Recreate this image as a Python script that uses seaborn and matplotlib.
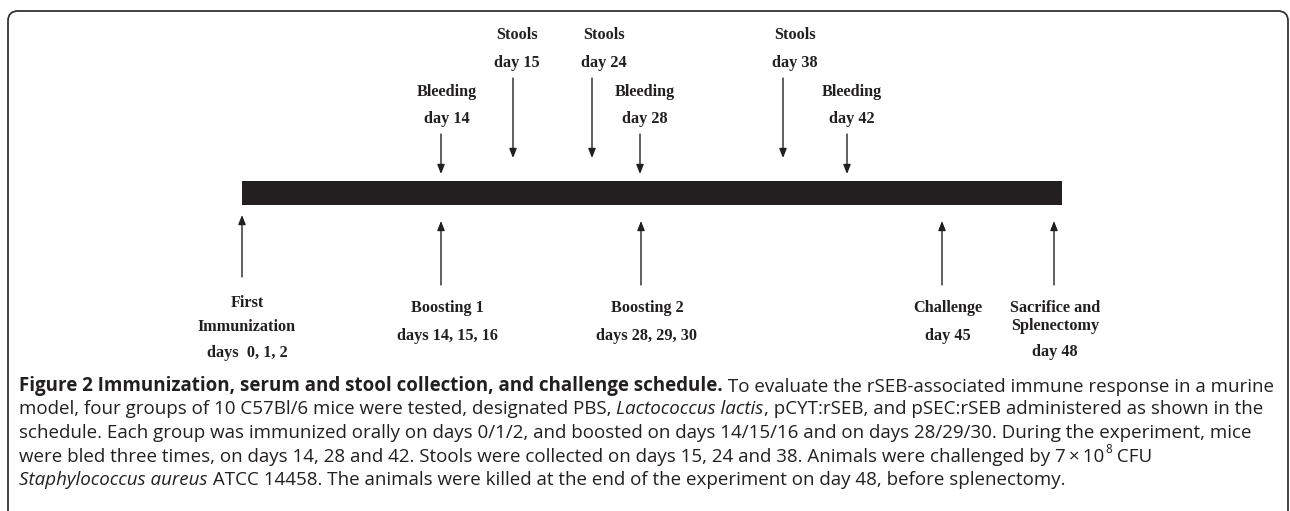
import matplotlib
matplotlib.use("Agg")
import matplotlib.pyplot as plt
import seaborn as sns
import pandas as pd
from matplotlib.path import Path
import matplotlib.patches as mpatches

# ---------------- data ----------------
top_events = ["Bleeding", "Stools", "Stools", "Bleeding", "Stools", "Bleeding"]
top_days = [14, 15, 24, 28, 38, 42]
bottom_events = ["First\nImmunization", "Boosting 1", "Boosting 2", "Challenge",
                 "Sacrifice and\nSplenectomy"]
bottom_day_labels = ["days  0, 1, 2", "days 14, 15, 16", "days 28, 29, 30", "day 45", "day 48"]
timeline_start_day = 0
timeline_end_day = 48

caption_lines = [
    [("Figure 2 Immunization, serum and stool collection, and challenge schedule.", "bold"),
     (" To evaluate the rSEB-associated immune response in a murine", "normal")],
    [("model, four groups of 10 C57Bl/6 mice were tested, designated PBS, ", "normal"),
     ("Lactococcus lactis", "italic"),
     (", pCYT:rSEB, and pSEC:rSEB administered as shown in the", "normal")],
    [("schedule. Each group was immunized orally on days 0/1/2, and boosted on days 14/15/16 "
      "and on days 28/29/30. During the experiment, mice", "normal")],
    [("were bled three times, on days 14, 28 and 42. Stools were collected on days 15, 24 and 38. "
      "Animals were challenged by 7\u2009\u00d7\u200910", "normal"),
     ("8", "sup"),
     (" CFU", "normal")],
    [("Staphylococcus aureus", "italic"),
     (" ATCC 14458. The animals were killed at the end of the experiment on day 48, before splenectomy.",
      "normal")],
]

# ---------------- layout (pixels) ----------------
W, H = 1290, 511
top_arrow_x = [441, 513, 592, 640, 783, 847]
top_label_x = [447, 517, 604, 645, 795, 852]
bottom_arrow_x = [242, 441, 641, 942, 1054]
bottom_label_x = [247, 447, 647, 948, 1055]
bar_x0, bar_x1, bar_y0, bar_y1 = 242, 1062, 181, 205

INK = "#231f20"
sns.set_style("white")
plt.rcParams["font.family"] = ["DejaVu Sans"]

fig = plt.figure(figsize=(W / 100, H / 100), dpi=100)
fig.patch.set_facecolor("white")

# overlay axes in pixel coordinates
ov = fig.add_axes([0, 0, 1, 1])
ov.set_xlim(0, W)
ov.set_ylim(H, 0)
ov.axis("off")

# timeline bar via seaborn
axb = fig.add_axes([bar_x0 / W, 1 - bar_y1 / H, (bar_x1 - bar_x0) / W, (bar_y1 - bar_y0) / H])
df = pd.DataFrame({"phase": ["schedule"], "end": [timeline_end_day]})
sns.barplot(data=df, x="end", y="phase", orient="h", color=INK, saturation=1,
            width=1.0, linewidth=0, ax=axb)
axb.set_xlim(timeline_start_day, timeline_end_day)
axb.set_ylim(0.5, -0.5)
axb.axis("off")

# frame (rounded top corners)
r = 10
verts = [(8, H + 5), (8, 11 + r), (8, 11), (8 + r, 11), (1288 - r, 11), (1288, 11), (1288, 11 + r),
         (1288, H + 5)]
codes = [Path.MOVETO, Path.LINETO, Path.CURVE3, Path.CURVE3, Path.LINETO, Path.CURVE3, Path.CURVE3,
         Path.LINETO]
ov.add_patch(mpatches.PathPatch(Path(verts, codes), fill=False, edgecolor="#333333", lw=1.3,
                                clip_on=False))

serif = dict(family="Liberation Serif", weight="bold", size=11.7, color=INK)
arrow_kw = dict(arrowstyle="-|>,head_length=0.55,head_width=0.22", color=INK, lw=1.0,
                shrinkA=0, shrinkB=0, mutation_scale=10)

# top events
for name, day, ax_x, lx in zip(top_events, top_days, top_arrow_x, top_label_x):
    if name == "Stools":
        y_name, y_day, y0, y1 = 35, 63, 78, 158
    else:
        y_name, y_day, y0, y1 = 92, 119, 134, 174
    ov.text(lx, y_name, name, ha="center", va="center", **serif)
    ov.text(lx, y_day, f"day {day}", ha="center", va="center", **serif)
    ov.annotate("", xy=(ax_x, y1), xytext=(ax_x, y0), arrowprops=arrow_kw)

# bottom events
for i, (name, dlab, ax_x, lx) in enumerate(zip(bottom_events, bottom_day_labels,
                                                bottom_arrow_x, bottom_label_x)):
    if i == 0:
        y0, y1 = 277, 215
        ov.text(lx, 303, name.split("\n")[0], ha="center", va="center", **serif)
        ov.text(lx, 327, name.split("\n")[1], ha="center", va="center", **serif)
        ov.text(lx, 353, dlab, ha="center", va="center", **serif)
    elif "\n" in name:
        y0, y1 = 285, 221
        ov.text(lx, 308, name.split("\n")[0], ha="center", va="center", **serif)
        ov.text(lx, 326, name.split("\n")[1], ha="center", va="center", **serif)
        ov.text(lx, 352, dlab, ha="center", va="center", **serif)
    else:
        y0, y1 = 285, 221
        ov.text(lx, 308, name, ha="center", va="center", **serif)
        ov.text(lx, 336, dlab, ha="center", va="center", **serif)
    ov.annotate("", xy=(ax_x, y1), xytext=(ax_x, y0), arrowprops=arrow_kw)

# caption
cap_font = "Open Sans"
renderer = fig.canvas.get_renderer()
probe = ov.text(0, 0, "".join(s for s, _ in caption_lines[2]), family=cap_font, size=12)
wprobe = probe.get_window_extent(renderer).width
probe.remove()
target = 1252 - 19
cap_size = 12 * target / wprobe

cap_x0 = 19
cap_y = [386, 409.5, 433, 456.5, 480]
for line, yb in zip(caption_lines, cap_y):
    prev = None       # last text object (for x chaining)
    base = None       # last full-size text (for y / baseline chaining)
    for seg, style in line:
        kw = dict(family=cap_font, size=cap_size, color=INK)
        if style == "bold":
            kw["weight"] = "bold"
        elif style == "italic":
            kw["style"] = "italic"
        if style == "sup":
            kw["size"] = cap_size * 0.62
            t = ov.annotate(seg, xy=(1, 0.52), xycoords=base, xytext=(0.6, 0),
                            textcoords="offset points", va="bottom", ha="left", **kw)
            prev = t
            continue
        if prev is None:
            t = ov.text(cap_x0, yb, seg, ha="left", va="center", **kw)
        else:
            t = ov.annotate(seg, xy=(1, 0), xycoords=(prev, base), va="bottom", ha="left", **kw)
        prev = t
        base = t

fig.savefig("out.png", dpi=100, facecolor="white")
